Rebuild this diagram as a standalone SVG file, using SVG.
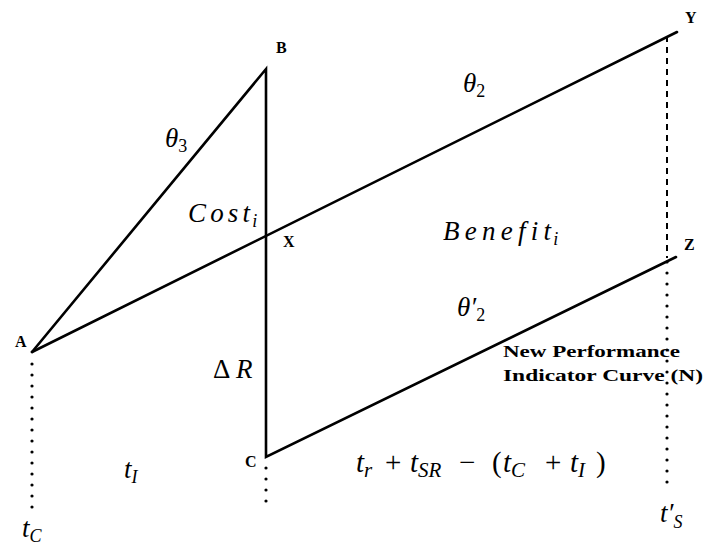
<svg xmlns="http://www.w3.org/2000/svg" width="704" height="550" viewBox="0 0 704 550">
<style>
.ln{stroke:#000;stroke-width:2.6;fill:none;stroke-linecap:round}
.dot{stroke:#000;stroke-width:3.2;fill:none;stroke-linecap:round;stroke-dasharray:0 11}
.dash{stroke:#000;stroke-width:2;fill:none;stroke-dasharray:6 5}
.pt{font-family:"Liberation Serif",serif;font-weight:bold;font-size:16px;fill:#000}
.m{font-family:"Liberation Serif",serif;font-style:italic;font-size:27px;fill:#000}
.sub{font-size:18px}
.fs{font-size:21px}
.up{font-style:normal}
.lab{font-family:"Liberation Serif",serif;font-weight:bold;font-size:17px;fill:#000}
</style>
<rect width="704" height="550" fill="#fff"/>
<g id="connectors">
<path class="ln" d="M32,352 L266,69 L266,457 L676,257"/>
<path class="ln" d="M32,352 L677,32"/>
<path class="dot" d="M32,364 L32,515"/>
<path class="dot" d="M266,468 L266,508"/>
<path class="dash" d="M667,36 L667,258"/>
<path class="dot" d="M667,262 L667,490"/>
</g>
<g id="node-A"><text class="pt" x="15" y="347">A</text></g>
<g id="node-B"><text class="pt" x="276" y="53">B</text></g>
<g id="node-X"><text class="pt" x="283" y="247">X</text></g>
<g id="node-Y"><text class="pt" x="685" y="23">Y</text></g>
<g id="node-Z"><text class="pt" x="684" y="250">Z</text></g>
<g id="node-C"><text class="pt" x="245" y="467">C</text></g>
<g id="labels">
<text class="m" x="165" y="147">θ<tspan class="sub up" dy="5">3</tspan></text>
<text class="m" x="463" y="92">θ<tspan class="sub up" dy="5">2</tspan></text>
<text class="m" x="188" y="222"><tspan textLength="62" lengthAdjust="spacing">Cost</tspan><tspan class="sub" dx="-2" dy="5">i</tspan></text>
<text class="m" x="443" y="240"><tspan textLength="108" lengthAdjust="spacing">Benefit</tspan><tspan class="sub" dx="-3" dy="5">i</tspan></text>
<text class="m" x="457" y="316">θ′<tspan class="sub up" dy="5">2</tspan></text>
<text class="m" x="213" y="378"><tspan class="up">Δ</tspan><tspan x="236">R</tspan></text>
<text class="lab" x="503" y="357" textLength="177" lengthAdjust="spacingAndGlyphs">New Performance</text>
<text class="lab" x="503" y="381" textLength="200" lengthAdjust="spacingAndGlyphs">Indicator Curve (N)</text>
<text class="m" x="124" y="478">t<tspan class="sub" dy="5">I</tspan></text>
<text class="m" style="font-size:29px" x="356" y="472">t<tspan class="fs" dy="5">r</tspan><tspan class="up" x="385" dy="-5">+</tspan><tspan x="410">t</tspan><tspan class="fs" dy="5">SR</tspan><tspan class="up" x="459" dy="-5">−</tspan><tspan class="up" x="492">(</tspan><tspan x="503">t</tspan><tspan class="fs" dy="5">C</tspan><tspan class="up" x="545" dy="-5">+</tspan><tspan x="570">t</tspan><tspan class="fs" dy="5">I</tspan><tspan class="up" x="596" dy="-5">)</tspan></text>
<text class="m" x="660" y="522">t′<tspan class="sub" dy="6">S</tspan></text>
<text class="m" x="22" y="537">t<tspan class="sub" dy="5">C</tspan></text>
</g>
</svg>
